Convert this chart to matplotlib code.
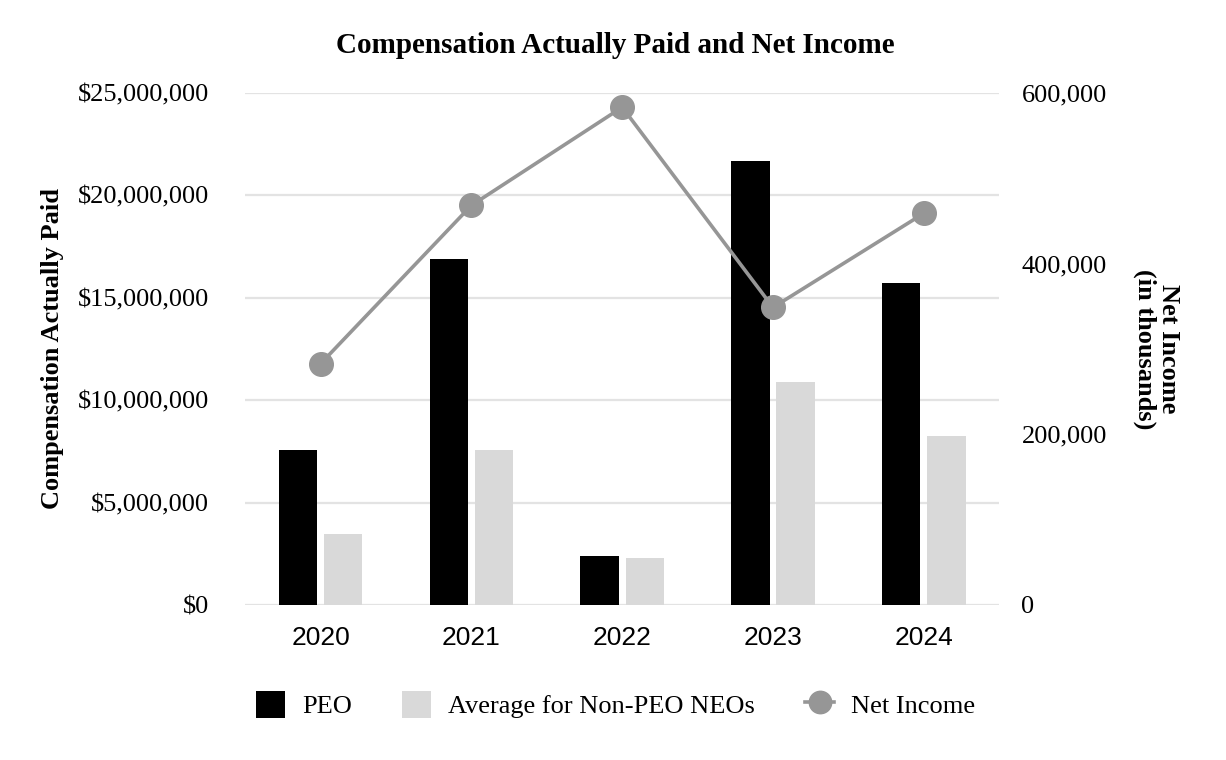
import matplotlib
matplotlib.use("Agg")
import matplotlib.pyplot as plt
import numpy as np
from matplotlib.ticker import FuncFormatter

years = ["2020", "2021", "2022", "2023", "2024"]
peo = [7580000, 16870000, 2390000, 21650000, 15690000]
non_peo = [3470000, 7580000, 2290000, 10890000, 8250000]
net_income = [282600, 468000, 583000, 348500, 458700]

left_ticks = [0, 5000000, 10000000, 15000000, 20000000, 25000000]
right_ticks = [0, 200000, 400000, 600000]

serif = "Liberation Serif"
sans = "Liberation Sans"

fig = plt.figure(figsize=(12.26, 7.6), dpi=100)
ax = fig.add_axes([0.200, 0.204, 0.615, 0.674])
ax2 = ax.twinx()

x = np.arange(len(years))
w = 0.255
off = 0.15
b1 = ax.bar(x - off, peo, w, color="#000000", label="PEO", zorder=3)
b2 = ax.bar(x + off, non_peo, w, color="#d9d9d9", label="Average for Non-PEO NEOs", zorder=3)
l1, = ax2.plot(x, net_income, color="#969696", lw=2.6, marker="o", markersize=17,
               label="Net Income", zorder=4)

ax.set_xlim(-0.5, 4.5)
ax.set_ylim(0, 25000000)
ax2.set_ylim(0, 600000)
ax.set_yticks(left_ticks)
ax2.set_yticks(right_ticks)
ax.yaxis.set_major_formatter(FuncFormatter(lambda v, p: "${:,.0f}".format(v)))
ax2.yaxis.set_major_formatter(FuncFormatter(lambda v, p: "{:,.0f}".format(v)))
ax.set_xticks(x)
ax.set_xticklabels(years, fontfamily=sans, fontsize=19)

for a in (ax, ax2):
    for s in a.spines.values():
        s.set_visible(False)
    a.tick_params(length=0)
ax.grid(axis="y", color="#e3e3e3", lw=1.6, zorder=0)
ax.set_axisbelow(True)
ax.tick_params(axis="y", labelsize=19, pad=26)
ax2.tick_params(axis="y", labelsize=19, pad=16)
ax.tick_params(axis="x", pad=15)
for lab in ax.get_yticklabels() + ax2.get_yticklabels():
    lab.set_fontfamily(serif)

ax.set_ylabel("Compensation Actually Paid", fontfamily=serif, fontsize=19,
              fontweight="bold")
ax.yaxis.set_label_coords(-0.24, 0.5)
ax2.set_ylabel("Net Income\n(in thousands)", fontfamily=serif, fontsize=19,
               fontweight="bold", rotation=270, linespacing=1.05)
ax2.yaxis.set_label_coords(1.24, 0.5)

fig.suptitle("Compensation Actually Paid and Net Income", fontfamily=serif,
             fontsize=21, fontweight="bold", x=0.502, y=0.958)

leg = fig.legend([b1, b2, l1], ["PEO", "Average for Non-PEO NEOs", "Net Income"],
                 loc="center", bbox_to_anchor=(0.502, 0.073), ncol=3, frameon=False,
                 prop={"family": serif, "size": 19}, handlelength=1.1,
                 handleheight=1.2, columnspacing=1.9, handletextpad=0.65,
                 markerscale=0.95)

fig.savefig("out.png", dpi=100)
